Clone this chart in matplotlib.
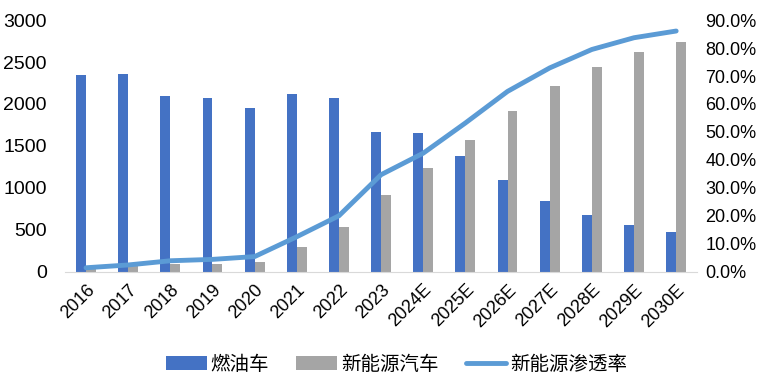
import matplotlib
matplotlib.use("Agg")
import matplotlib.pyplot as plt
import numpy as np
from matplotlib.ticker import FuncFormatter

plt.rcParams['font.family'] = ['Liberation Sans', 'Noto Sans CJK SC', 'DejaVu Sans']

years = ["2016", "2017", "2018", "2019", "2020", "2021", "2022", "2023",
         "2024E", "2025E", "2026E", "2027E", "2028E", "2029E", "2030E"]
fuel = [2340, 2357, 2098, 2074, 1951, 2122, 2074, 1665,
        1657, 1379, 1093, 846, 676, 553, 470]
nev = [30, 78, 88, 88, 112, 298, 529, 911,
       1238, 1570, 1915, 2210, 2444, 2615, 2738]
rate = [1.4, 2.4, 3.9, 4.4, 5.4, 12.5, 20.0, 34.7,
        42.4, 53.2, 64.5, 72.9, 79.5, 83.7, 86.1]

fig = plt.figure(figsize=(7.73, 3.87), dpi=100)
ax = fig.add_axes([0.084, 0.298, 0.818, 0.650])
x = np.arange(len(years))
w = 0.235

# bars: fuel / NEV
b1 = ax.bar(x - w / 2, fuel, w, color="#4472C4", label="燃油车")
b2 = ax.bar(x + w / 2, nev, w, color="#A5A5A5", label="新能源汽车")
ax.set_ylim(0, 3000)
ax.set_xlim(-0.5, len(years) - 0.5)
ax.set_yticks(range(0, 3001, 500))
ax.set_xticks(x)
ax.set_xticklabels(years, rotation=45, ha="right", rotation_mode="anchor")
ax.tick_params(axis="both", length=0, colors="#000000")
ax.tick_params(axis="x", labelsize=13, pad=7)
ax.tick_params(axis="y", labelsize=14, pad=13)
for s in ["top", "right", "left"]:
    ax.spines[s].set_visible(False)
ax.spines["bottom"].set_color("#D9D9D9")

# penetration rate on the right axis
ax2 = ax.twinx()
l1, = ax2.plot(x, rate, color="#5B9BD5", linewidth=3.5, solid_capstyle="round",
               label="新能源渗透率")
ax2.set_ylim(0, 90)
ax2.set_yticks(range(0, 91, 10))
ax2.yaxis.set_major_formatter(FuncFormatter(lambda v, p: f"{v:.1f}%"))
ax2.tick_params(axis="y", length=0, labelsize=13, pad=6)
for s in ["top", "right", "left", "bottom"]:
    ax2.spines[s].set_visible(False)

fig.legend([b1, b2, l1], ["燃油车", "新能源汽车", "新能源渗透率"],
           loc="center", bbox_to_anchor=(0.513, 0.057), ncol=3, frameon=False,
           fontsize=14, handlelength=2.1, handletextpad=0.2, columnspacing=1.4)

fig.savefig("out.png", dpi=100)
